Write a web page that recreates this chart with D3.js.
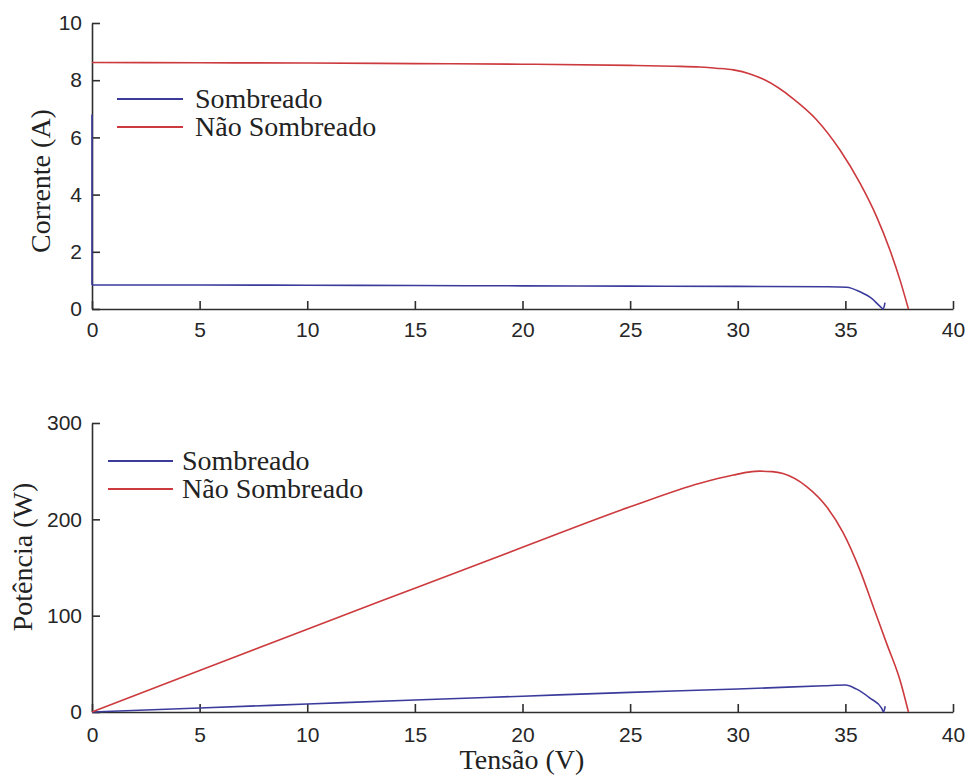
<!DOCTYPE html>
<html>
<head>
<meta charset="utf-8">
<script src="https://cdn.jsdelivr.net/npm/d3@7"></script>
<style>
  html, body { margin: 0; padding: 0; background: #fff; }
  svg { display: block; }
  .tick text { font-family: "Liberation Sans", Arial, sans-serif; font-size: 21px; fill: #262626; }
  .axis path, .axis line { stroke: #2e2e2e; stroke-width: 1.6px; }
  .lbl { font-family: "Liberation Serif", "Times New Roman", serif; font-size: 28px; fill: #222; }
</style>
</head>
<body>
<svg id="chart" width="970" height="776"></svg>
<script>
// Tick values
const voltTicks = [0, 5, 10, 15, 20, 25, 30, 35, 40];
const currTicks = [0, 2, 4, 6, 8, 10];
const powTicks = [0, 100, 200, 300];

// I-V curve, unshaded module
const ivFullV = [0, 5, 10, 15, 20, 25, 27, 28.25, 29.0, 29.8, 30.57, 31.2, 32.58, 33.66, 34.75, 35.68, 36.45, 37.07, 37.54, 37.93];
const ivFullI = [8.62, 8.61, 8.60, 8.58, 8.56, 8.52, 8.49, 8.46, 8.42, 8.36, 8.22, 8.03, 7.35, 6.62, 5.56, 4.40, 3.23, 2.06, 1.01, 0];

// I-V curve, shaded module (vertical start at V = 0, then the plateau)
const ivShadeStartV = [0, 0];
const ivShadeStartI = [6.8, 0.84];
const ivShadeV = [0, 5, 10, 15, 20, 25, 30, 34.2, 35.06, 35.68, 36.22, 36.6, 36.76, 36.84];
const ivShadeI = [0.84, 0.84, 0.83, 0.82, 0.81, 0.80, 0.79, 0.78, 0.76, 0.60, 0.37, 0.10, 0, 0.22];

// P-V curve, unshaded module
const pvFullV = [0, 5, 10, 15, 20, 25, 28.25, 29.8, 30.5, 31.03, 31.6, 32.1, 33.2, 34.13, 34.9, 35.68, 36.3, 36.92, 37.54, 37.93];
const pvFullP = [0, 43, 86, 128.5, 171, 213, 237.5, 246, 249, 250, 249.5, 247.5, 234, 213, 186, 147, 109, 71, 33, 0];

// P-V curve, shaded module
const pvShadeV = [0, 5, 10, 15, 20, 25, 30, 34, 35, 35.5, 36.14, 36.69, 36.77, 36.85];
const pvShadeP = [0, 4.2, 8.3, 12.4, 16.4, 20.4, 23.9, 27.2, 28, 24, 14.5, 3.8, 0, 6];

const seriesNames = ["Sombreado", "Não Sombreado"];
const seriesColors = ["#3b3b9c", "#cc3a3e"];

const svg = d3.select("#chart");
svg.append("rect").attr("width", 970).attr("height", 776).attr("fill", "#fff");

function panel(cfg) {
  const x = d3.scaleLinear().domain([0, 40]).range([92, 953]);
  const y = d3.scaleLinear().domain(cfg.yDomain).range(cfg.yRange);
  const g = svg.append("g");

  g.append("g").attr("class", "axis")
    .attr("transform", `translate(0,${cfg.yRange[0]})`)
    .call(d3.axisBottom(x).tickValues(voltTicks).tickSizeInner(-8).tickSizeOuter(0).tickPadding(cfg.xPad));
  g.append("g").attr("class", "axis")
    .attr("transform", "translate(92,0)")
    .call(d3.axisLeft(y).tickValues(cfg.yTicks).tickSizeInner(-8).tickSizeOuter(0).tickPadding(10));

  const smooth = d3.line().x(d => x(d[0])).y(d => y(d[1])).curve(d3.curveMonotoneX);
  const straight = d3.line().x(d => x(d[0])).y(d => y(d[1]));

  cfg.series.forEach(s => {
    const pts = s.xs.map((v, k) => [v, s.ys[k]]);
    g.append("path").datum(pts)
      .attr("fill", "none")
      .attr("stroke", seriesColors[s.c])
      .attr("stroke-width", 1.6)
      .attr("stroke-linejoin", "round")
      .attr("d", s.linear ? straight : smooth);
  });

  // legend
  const lg = g.append("g");
  seriesNames.forEach((name, i) => {
    const ly = cfg.legY + i * cfg.legGap;
    lg.append("line")
      .attr("x1", cfg.legX).attr("x2", cfg.legX + cfg.legLen)
      .attr("y1", ly).attr("y2", ly)
      .attr("stroke", seriesColors[i]).attr("stroke-width", 1.8);
    lg.append("text").attr("class", "lbl")
      .attr("x", cfg.legX + cfg.legLen + cfg.legTextGap).attr("y", ly + 9)
      .text(name);
  });

  // y label
  g.append("text").attr("class", "lbl")
    .attr("transform", `translate(${cfg.yLabX},${cfg.yLabY}) rotate(-90)`)
    .attr("text-anchor", "middle")
    .text(cfg.yLabel);
}

panel({
  yDomain: [0, 10], yRange: [309, 23], yTicks: currTicks, xPad: 13,
  series: [
    { xs: ivShadeStartV, ys: ivShadeStartI, c: 0, linear: true },
    { xs: ivShadeV, ys: ivShadeI, c: 0 },
    { xs: ivFullV, ys: ivFullI, c: 1 }
  ],
  legX: 117, legLen: 66, legTextGap: 12, legY: 99, legGap: 28,
  yLabX: 50, yLabY: 181, yLabel: "Corrente (A)"
});

panel({
  yDomain: [0, 300], yRange: [712, 423], yTicks: powTicks, xPad: 15,
  series: [
    { xs: pvShadeV, ys: pvShadeP, c: 0 },
    { xs: pvFullV, ys: pvFullP, c: 1 }
  ],
  legX: 108, legLen: 65, legTextGap: 9, legY: 461, legGap: 28,
  yLabX: 32, yLabY: 557, yLabel: "Potência (W)"
});

svg.append("text").attr("class", "lbl")
  .attr("x", 522).attr("y", 769)
  .attr("text-anchor", "middle")
  .text("Tensão (V)");
</script>
</body>
</html>
